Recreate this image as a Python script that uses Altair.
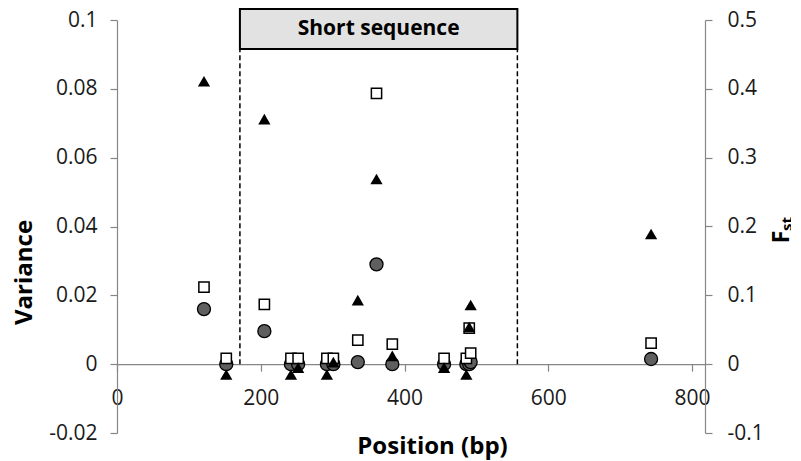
import altair as alt
import pandas as pd

# ---- data ----
positions = [121, 152, 205, 242, 252, 292, 301, 335, 361, 383, 455, 486, 490, 492, 743]
variance_circle = [0.016, 0, 0.0096, 0, 0, 0, 0, 0.0006, 0.029, 0, 0, 0, 0, 0.0006, 0.0015]
variance_square = [0.0224, 0.0017, 0.0174, 0.0017, 0.0017, 0.0017, 0.0017, 0.007, 0.0787,
                   0.0058, 0.0017, 0.0017, 0.0105, 0.0032, 0.0061]
fst_values = [0.411, -0.015, 0.356, -0.015, -0.005, -0.015, 0.003, 0.093, 0.269, 0.012,
              -0.005, -0.015, 0.054, 0.086, 0.189]

x_ticks = [0, 200, 400, 600, 800]
variance_ticks = [-0.02, 0, 0.02, 0.04, 0.06, 0.08, 0.1]
fst_ticks = [-0.1, 0, 0.1, 0.2, 0.3, 0.4, 0.5]

region_start = [171]
region_end = [557]
region_label = ["Short sequence"]
region_box_bottom = [0.0916]
region_box_top = [0.1032]

FONT = "Open Sans"

df = pd.DataFrame({"pos": positions, "va": variance_circle, "vb": variance_square, "fst": fst_values})
region_df = pd.DataFrame({
    "start": region_start, "end": region_end, "label": region_label,
    "bot": region_box_bottom, "top": region_box_top,
})
region_df["mid"] = (region_df["start"] + region_df["end"]) / 2
region_df["ymid"] = (region_df["bot"] + region_df["top"]) / 2
rules_df = pd.DataFrame({"x": region_start + region_end,
                         "y0": [0.0] * 2,
                         "y1": region_box_bottom * 2})

x_scale = alt.Scale(domain=[0, 818], nice=False, zero=False)
x_axis = alt.Axis(values=x_ticks, title="Position (bp)", offset=-68.83, tickSize=7,
                  labelPadding=16, labelFlush=False, labelOverlap=False,
                  titleX=315, titleY=89, titleBaseline="alphabetic", titleAlign="center")
yl_scale = alt.Scale(domain=[-0.02, 0.1], nice=False, zero=False)
yl_axis = alt.Axis(values=variance_ticks, title="Variance", orient="left", tickSize=7,
                   labelPadding=13, labelFlush=False, labelOverlap=False,
                   labelExpr="'' + datum.value",
                   titleAngle=270, titleX=-93, titleY=252, titleAlign="center",
                   titleBaseline="middle")
yr_scale = alt.Scale(domain=[-0.1, 0.5], nice=False, zero=False)
yr_axis = alt.Axis(values=fst_ticks, title=None, orient="right", tickSize=7,
                   labelPadding=15, labelFlush=False, labelOverlap=False,
                   labelExpr="'' + datum.value")


def X(field):
    return alt.X(field, type="quantitative", scale=x_scale, axis=x_axis)


def YL(field):
    return alt.Y(field, type="quantitative", scale=yl_scale, axis=yl_axis)


box = alt.Chart(region_df).mark_rect(fill="#e2e2e2", stroke="black", strokeWidth=2).encode(
    x=X("start"), x2="end", y=YL("bot"), y2="top")

box_text = alt.Chart(region_df).mark_text(font=FONT, fontWeight="bold", fontSize=21,
                                          align="center", baseline="middle", color="black").encode(
    x=X("mid"), y=YL("ymid"), text="label:N")

rules = alt.Chart(rules_df).mark_rule(color="black", strokeWidth=1.5, strokeDash=[5, 3]).encode(
    x=X("x"), y=YL("y0"), y2="y1")

circles = alt.Chart(df).mark_point(shape="circle", filled=True, fill="#5f5f5f", stroke="black",
                                   strokeWidth=1.3, size=170, opacity=1).encode(
    x=X("pos"), y=YL("va"))

squares = alt.Chart(df).mark_point(shape="square", filled=True, fill="white", stroke="black",
                                   strokeWidth=1.5, size=105, opacity=1).encode(
    x=X("pos"), y=YL("vb"))

f_text = alt.Chart(pd.DataFrame({"t": ["F"]})).mark_text(
    font=FONT, fontWeight="bold", fontSize=23, angle=270, align="center", baseline="middle",
    color="black").encode(x=alt.value(665), y=alt.value(217), text="t:N")
st_text = alt.Chart(pd.DataFrame({"t": ["st"]})).mark_text(
    font=FONT, fontWeight="bold", fontSize=15, angle=270, align="center", baseline="middle",
    color="black").encode(x=alt.value(670), y=alt.value(204), text="t:N")

left = alt.layer(box, rules, box_text, circles, squares, f_text, st_text)

triangles = alt.Chart(df).mark_point(shape="triangle-up", filled=True, fill="black",
                                     strokeWidth=0, size=150, opacity=1).encode(
    x=X("pos"), y=alt.Y("fst", type="quantitative", scale=yr_scale, axis=yr_axis))

chart = alt.layer(left, triangles).resolve_scale(y="independent").properties(
    width=588, height=413,
    autosize=alt.AutoSizeParams(type="none"),
    padding={"left": 109, "top": 12, "right": 86, "bottom": 28},
).configure_view(stroke=None).configure_axis(
    grid=False, domainColor="#868686", tickColor="#868686", domainWidth=1.2, tickWidth=1.2,
    labelFont=FONT, labelFontSize=21, labelColor="#1a1a1a",
    titleFont=FONT, titleFontSize=24, titleFontWeight="bold", titleColor="black",
)

chart.save("out.html", embed_options={"renderer": "svg", "actions": False})
